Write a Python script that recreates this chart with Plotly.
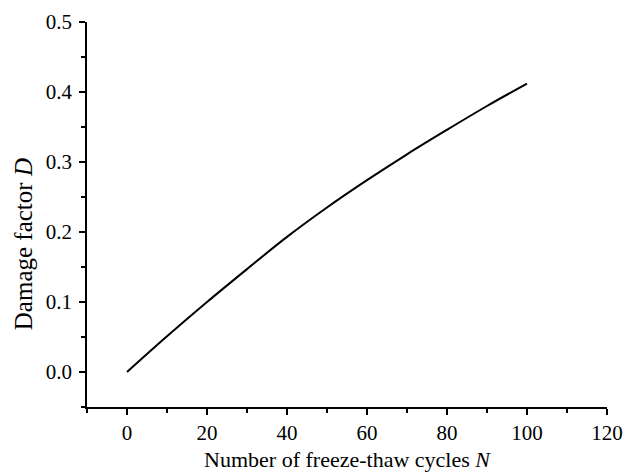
import plotly.graph_objects as go

cycles_N = [0, 10, 20, 30, 40, 50, 60, 70, 80, 90, 100]
damage_D = [0.0, 0.051, 0.100, 0.147, 0.193, 0.235, 0.274, 0.311, 0.346, 0.380, 0.412]

x_ticks = [0, 20, 40, 60, 80, 100, 120]
y_ticks = [0.0, 0.1, 0.2, 0.3, 0.4, 0.5]

fig = go.Figure()
fig.add_trace(go.Scatter(x=cycles_N, y=damage_D, mode="lines",
                         line=dict(color="black", width=2, shape="spline"),
                         showlegend=False))

fam = "Liberation Serif, Times New Roman, serif"

fig.update_layout(
    width=635, height=472,
    margin=dict(l=87, r=28, t=22, b=65),
    paper_bgcolor="white", plot_bgcolor="white",
    font=dict(family=fam, size=21, color="black"),
    xaxis=dict(range=[-10, 120], tickvals=x_ticks, ticks="outside", ticklen=6, tickwidth=1.5,
               showline=True, linecolor="black", linewidth=1.5, showgrid=False, zeroline=False,
               tickcolor="black", ticklabelstandoff=0, tickfont=dict(size=21), automargin=False,
               minor=dict(dtick=10, tick0=0, ticks="outside", ticklen=4, tickwidth=1.5, tickcolor="black", showgrid=False),
               title=dict(text="Number of freeze-thaw cycles <i>N</i>", font=dict(size=22))),
    yaxis=dict(range=[-0.05, 0.5], tickvals=y_ticks, tickformat=".1f", ticks="outside", ticklen=6, tickwidth=1.5,
               showline=True, linecolor="black", linewidth=1.5, showgrid=False, zeroline=False,
               tickcolor="black", ticklabelstandoff=3, tickfont=dict(size=21), automargin=False,
               minor=dict(dtick=0.05, tick0=0, ticks="outside", ticklen=4, tickwidth=1.5, tickcolor="black", showgrid=False)),
    annotations=[dict(text="Damage factor <i>D</i>", xref="paper", yref="paper",
                      x=-0.123, y=0.423, xanchor="center", yanchor="middle",
                      textangle=-90, showarrow=False, font=dict(size=25))],
)

fig.write_html("out.html")
